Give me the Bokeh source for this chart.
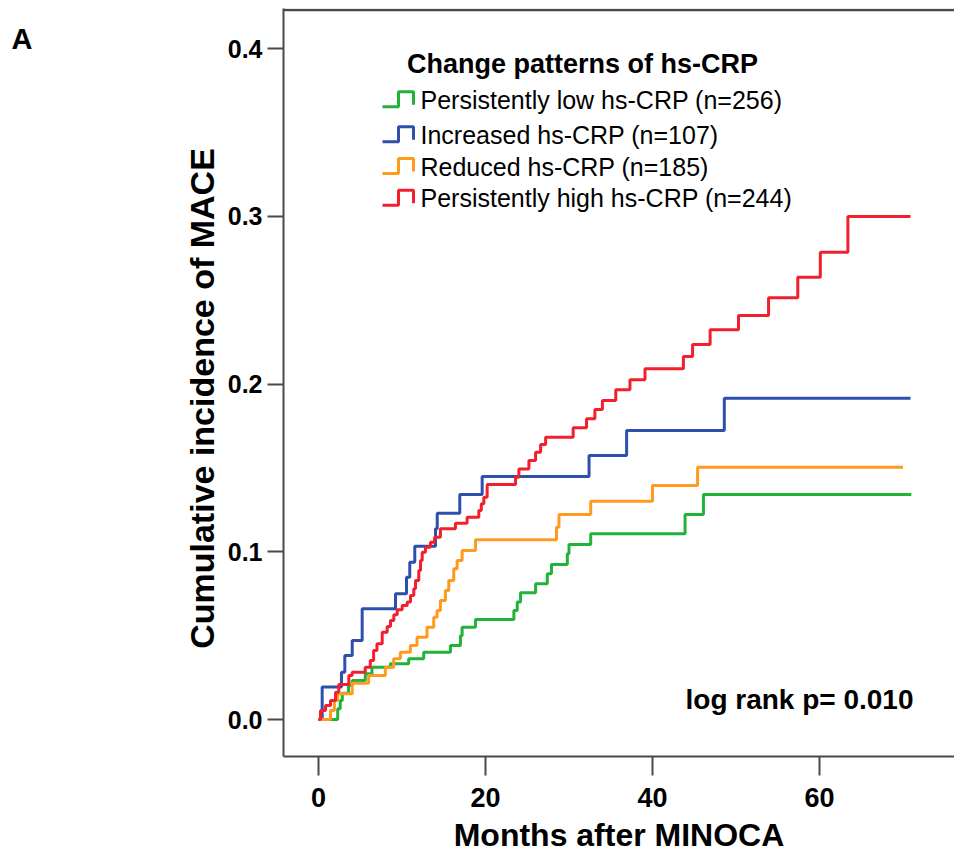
from bokeh.plotting import figure
from bokeh.models import Range1d, FixedTicker, Label, Span, LinearAxis
from bokeh.embed import file_html
from bokeh.resources import INLINE

# ---------------- data ----------------
X_TICKS = [0, 20, 40, 60]
X_TICK_LABELS = ["0", "20", "40", "60"]
Y_TICKS = [0.0, 0.1, 0.2, 0.3, 0.4]
Y_TICK_LABELS = ["0.0", "0.1", "0.2", "0.3", "0.4"]

GROUPS = ["Persistently low hs-CRP (n=256)", "Increased hs-CRP (n=107)",
          "Reduced hs-CRP (n=185)", "Persistently high hs-CRP (n=244)"]

LOW_T = [0, 2.3, 2.6, 2.85, 3.6, 4.04, 5.6, 6.4, 8.6, 10.8, 12.6, 15.8, 17.0, 17.2, 18.8,
         23.4, 23.8, 24.2, 26.0, 27.4, 27.9, 29.8, 30.0, 32.6, 43.9, 46.1, 71.0]
LOW_V = [0, 0.0064, 0.0113, 0.0157, 0.0203, 0.0232, 0.0272, 0.0312, 0.0332, 0.0362, 0.0401,
         0.0441, 0.050, 0.055, 0.0596, 0.065, 0.070, 0.0755, 0.0809, 0.0869, 0.0924, 0.0988,
         0.1043, 0.1107, 0.1222, 0.1341, 0.1341]

INC_T = [0, 0.44, 2.75, 3.15, 4.04, 5.23, 9.22, 10.54, 10.93, 11.53, 14.01, 14.22, 16.92,
         19.6, 32.4, 36.9, 48.6, 70.9]
INC_V = [0, 0.0193, 0.0282, 0.0382, 0.0471, 0.066, 0.0749, 0.0848, 0.0938, 0.1033, 0.1137,
         0.123, 0.1341, 0.1449, 0.1574, 0.1723, 0.1915, 0.1915]

RED_T = [0, 1.44, 1.9, 2.3, 4.04, 6.0, 8.0, 9.0, 9.8, 11.0, 11.8, 13.0, 13.8, 14.2, 14.6,
         15.2, 15.6, 16.2, 16.6, 17.2, 18.8, 28.5, 28.8, 32.6, 40.0, 45.4, 70.0]
RED_V = [0, 0.0054, 0.0113, 0.0153, 0.0216, 0.0262, 0.0312, 0.0362, 0.0401, 0.0441, 0.049,
         0.055, 0.061, 0.065, 0.0709, 0.0769, 0.0829, 0.0898, 0.0948, 0.1007, 0.1071, 0.1146,
         0.1222, 0.1301, 0.1395, 0.1504, 0.1504]

HIGH_T = [0, 0.24, 0.84, 1.44, 2.04, 2.43, 3.63, 4.03, 5.6, 6.2, 6.6, 7.0, 7.63, 8.23, 8.62,
          9.02, 9.43, 10.02, 10.62, 11.02, 11.41, 11.62, 12.01, 12.22, 12.42, 12.81, 13.41,
          13.9, 14.6, 16.4, 17.8, 19.2, 19.5, 19.8, 20.2, 23.6, 24.0, 25.2, 26.0, 26.6, 27.2,
          30.5, 32.1, 33.1, 34.0, 35.6, 37.3, 39.1, 43.7, 44.8, 46.9, 50.3, 53.9, 57.4, 60.1,
          63.4, 70.9]
HIGH_V = [0, 0.0054, 0.0083, 0.0113, 0.0163, 0.0209, 0.0262, 0.0282, 0.0312, 0.0352, 0.0411,
          0.0451, 0.052, 0.0554, 0.059, 0.0624, 0.0654, 0.068, 0.070, 0.0739, 0.0779, 0.0829,
          0.0888, 0.0948, 0.0997, 0.1027, 0.1057, 0.1087, 0.1137, 0.117, 0.1206, 0.1246,
          0.1286, 0.1325, 0.1401, 0.1444, 0.1494, 0.1544, 0.1593, 0.1639, 0.1683, 0.1739,
          0.1793, 0.1848, 0.1902, 0.1965, 0.2025, 0.2091, 0.2164, 0.2235, 0.2323, 0.2408,
          0.2514, 0.2637, 0.2786, 0.2998, 0.2998]

SERIES = [(LOW_T, LOW_V), (INC_T, INC_V), (RED_T, RED_V), (HIGH_T, HIGH_V)]
COLORS = ["#22b23a", "#2f4fad", "#ff9a1f", "#f2202f"]

# ---------------- layout (canvas pixels) ----------------
FIG_W, FIG_H = 954, 855
FRAME_L, FRAME_T, FRAME_R, FRAME_B = 283, 8, 954, 756
X0_PX, PX_PER_X = 318.0, 8.35        # month 0 position, px per month
Y0_PX, PX_PER_Y = 719.0, 1677.5      # value 0 position, px per unit
TXT_SHIFT = 9                         # label baseline correction

X_START = (FRAME_L - X0_PX) / PX_PER_X
X_END = (FRAME_R - X0_PX) / PX_PER_X
Y_START = (Y0_PX - FRAME_B) / PX_PER_Y
Y_END = (Y0_PX - FRAME_T) / PX_PER_Y


def dx(px):
    return (px - X0_PX) / PX_PER_X


def dy(py):
    return (Y0_PX - py) / PX_PER_Y


SANS = "'Liberation Sans', Arial, sans-serif"
AX = "#4a4a4a"

p = figure(width=FIG_W, height=FIG_H,
           x_range=Range1d(X_START, X_END), y_range=Range1d(Y_START, Y_END),
           output_backend="svg", toolbar_location=None,
           min_border_left=FRAME_L, min_border_top=FRAME_T, min_border_right=0,
           min_border_bottom=FIG_H - FRAME_B)
p.outline_line_color = None
p.grid.visible = False
p.background_fill_color = "white"
p.border_fill_color = "white"

for (t, v), c in zip(SERIES, COLORS):
    p.step(t, v, mode="after", line_color=c, line_width=3)

# axes
p.xaxis.ticker = FixedTicker(ticks=X_TICKS)
p.xaxis.major_label_overrides = {t: s for t, s in zip(X_TICKS, X_TICK_LABELS)}
p.yaxis.ticker = FixedTicker(ticks=Y_TICKS)
p.yaxis.major_label_overrides = {t: s for t, s in zip(Y_TICKS, Y_TICK_LABELS)}
for ax in (p.xaxis, p.yaxis):
    ax.axis_line_color = AX
    ax.axis_line_width = 2
    ax.major_tick_line_color = AX
    ax.major_tick_line_width = 2
    ax.major_tick_in = 0
    ax.minor_tick_line_color = None
    ax.major_label_text_color = "black"
    ax.major_label_text_font_style = "bold"
    ax.major_label_text_font = SANS
    ax.axis_label_text_font = SANS
    ax.axis_label_text_font_style = "bold"
    ax.axis_label_text_color = "black"
p.xaxis.major_tick_out = 19
p.xaxis.major_label_text_font_size = "27px"
p.xaxis.major_label_standoff = 12
p.xaxis.axis_label = "Months after MINOCA"
p.xaxis.axis_label_text_font_size = "32px"
p.xaxis.axis_label_standoff = 7
p.yaxis.major_tick_out = 16
p.yaxis.major_label_text_font_size = "25px"
p.yaxis.major_label_standoff = 5


def text_axis(tick_y, text, size, standoff, orientation="horizontal"):
    """An outer left axis that only carries one text as its tick label."""
    return LinearAxis(ticker=FixedTicker(ticks=[tick_y]), major_label_overrides={tick_y: text},
                      major_label_orientation=orientation,
                      axis_line_color=None, major_tick_line_color=None,
                      minor_tick_line_color=None, major_tick_in=0, major_tick_out=0,
                      major_label_standoff=standoff, major_label_text_font=SANS,
                      major_label_text_font_size=size, major_label_text_font_style="bold",
                      major_label_text_color="black")


# y-axis title and panel letter
p.add_layout(text_axis(dy(398), "Cumulative incidence of MACE", "34px", 4, "vertical"), "left")
p.add_layout(text_axis(dy(38), "A", "29px", 147), "left")

# top frame line
p.add_layout(Span(location=dy(9.5), dimension="width", line_color=AX, line_width=2.5))


def add_label(px, py, text, size, bold=False, align="left"):
    p.add_layout(Label(x=dx(px), y=dy(py - TXT_SHIFT), text=text, text_font=SANS,
                       text_font_size=size, text_font_style="bold" if bold else "normal",
                       text_align=align, text_baseline="alphabetic", text_color="black"))


# p-value
add_label(913, 708, "log rank p= 0.010", "28px", bold=True, align="right")

# legend
add_label(582, 72, "Change patterns of hs-CRP", "27px", bold=True, align="center")
BASELINES = [108.3, 143.3, 175.0, 206.7]
for name, c, b in zip(GROUPS, COLORS, BASELINES):
    add_label(420, b, name, "25px")
    ix = [dx(382), dx(398), dx(398), dx(413), dx(413)]
    iy = [dy(b - 2), dy(b - 2), dy(b - 17), dy(b - 17), dy(b - 4)]
    p.line(ix, iy, line_color=c, line_width=3)

open("out.html", "w").write(file_html(p, INLINE))
